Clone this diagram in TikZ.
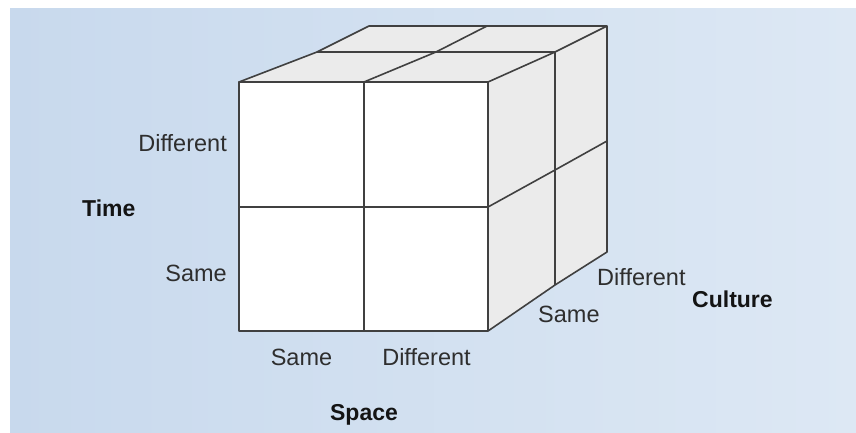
\documentclass[tikz,border=0pt]{standalone}
\usepackage{fontspec}
\setmainfont{Liberation Sans}
\begin{document}
\begin{tikzpicture}[x=1pt,y=-1pt,
  edge/.style={draw=black!75,line width=1.6pt,line join=round},
  lbl/.style={inner sep=0pt,text=black!82,font=\fontsize{23.5}{27}\selectfont},
  axis/.style={inner sep=0pt,text=black!92,font=\fontsize{23}{27}\selectfont\bfseries}]
\useasboundingbox (0,0) rectangle (856,432);
\fill[white] (0,0) rectangle (856,432);
\shade[left color={rgb,255:red,200;green,217;blue,237},right color={rgb,255:red,221;green,232;blue,244}] (10,8) rectangle (856,432);
% front face corners
\coordinate (FTL) at (239,82);
\coordinate (FTR) at (488,82);
\coordinate (FBL) at (239,331);
\coordinate (FBR) at (488,331);
\coordinate (FTM) at (364,82);
\coordinate (FBM) at (364,331);
\coordinate (FML) at (239,207);
\coordinate (FMR) at (488,207);
% mid depth
\coordinate (MTL) at (317,52);
\coordinate (MTM) at (436,52);
\coordinate (MTR) at (555,52);
\coordinate (MMR) at (555,170);
\coordinate (MBR) at (555,285);
% back
\coordinate (BTL) at (369,26);
\coordinate (BTM) at (487,26);
\coordinate (BTR) at (607,26);
\coordinate (BMR) at (607,141);
\coordinate (BBR) at (607,252);
% faces
\fill[white] (FTL) rectangle (FBR);
\fill[black!8] (FTL) -- (MTL) -- (BTL) -- (BTR) -- (MTR) -- (FTR) -- cycle;
\fill[black!8] (FTR) -- (MTR) -- (BTR) -- (BBR) -- (MBR) -- (FBR) -- cycle;
% edges
\draw[edge] (FTL) rectangle (FBR);
\draw[edge] (FTM) -- (FBM);
\draw[edge] (FML) -- (FMR);
\draw[edge] (FTL) -- (MTL) -- (BTL) -- (BTR) -- (BBR) -- (MBR) -- (FBR);
\draw[edge] (FTR) -- (MTR) -- (BTR);
\draw[edge] (MTL) -- (MTR) -- (MBR);
\draw[edge] (FTM) -- (MTM) -- (BTM);
\draw[edge] (FMR) -- (MMR) -- (BMR);
% labels
\node[lbl,anchor=base east] (tdiff) at (227,151) {Different};
\node[lbl,anchor=base east] (tsame) at (227,281) {Same};
\node[axis,anchor=base west] (time) at (82,216) {Time};
\node[lbl,anchor=base] (ssame) at (301.5,365) {Same};
\node[lbl,anchor=base] (sdiff) at (426.5,365) {Different};
\node[axis,anchor=base] (space) at (364,420) {Space};
\node[lbl,anchor=base west] (csame) at (538,322) {Same};
\node[lbl,anchor=base west] (cdiff) at (597,285) {Different};
\node[axis,anchor=base west] (culture) at (692,307) {Culture};
\end{tikzpicture}
\end{document}
